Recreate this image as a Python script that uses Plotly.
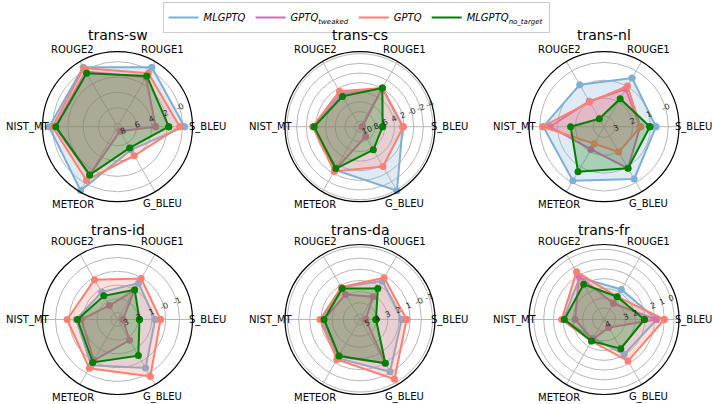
import math
import plotly.graph_objects as go

# ---------------- data ----------------
metrics = ["S_BLEU", "ROUGE1", "ROUGE2", "NIST_MT", "METEOR", "G_BLEU"]
series = ["MLGPTQ", "GPTQ_tweaked", "GPTQ", "MLGPTQ_no_target"]
legend_labels = ["<i>MLGPTQ</i>", "<i>GPTQ<sub>tweaked</sub></i>",
                 "<i>GPTQ</i>", "<i>MLGPTQ<sub>no_target</sub></i>"]
tasks = ["trans-sw", "trans-cs", "trans-nl", "trans-id", "trans-da", "trans-fr"]

# values per task, order of metrics
sw_mlgptq = [-0.26, -0.48, -0.48, -0.44, -1.14, 4.98]
sw_tweaked = [3.50, 1.05, 0.17, 0.30, 1.18, 7.80]
sw_gptq = [0.35, 0.43, -0.35, 0.00, 0.39, 4.10]
sw_notarget = [1.79, 0.83, 0.43, 0.43, 1.22, 5.28]

cs_mlgptq = [2.29, 1.87, 3.05, 1.46, 0.77, -4.20]
cs_tweaked = [10.66, 1.87, 3.50, 1.60, 0.77, 8.79]
cs_gptq = [2.15, 1.87, 2.63, 1.32, 0.42, 1.60]
cs_notarget = [6.44, 1.87, 3.88, 1.60, 1.11, 5.61]

nl_mlgptq = [0.69, 0.45, 0.88, 0.20, 0.11, 0.22]
nl_tweaked = [1.58, 1.17, 1.95, 0.58, 2.13, 0.91]
nl_gptq = [1.55, 0.97, 2.00, 0.17, 2.50, 1.96]
nl_notarget = [1.03, 1.79, 3.08, 1.73, 0.69, 0.91]

id_mlgptq = [0.76, 0.45, 1.20, 0.49, -0.33, -0.57]
id_tweaked = [3.10, 1.05, 2.31, 0.86, 0.08, 1.75]
id_gptq = [0.37, 0.06, 0.16, -0.16, -0.59, -1.27]
id_notarget = [1.90, 1.00, 1.51, 0.59, -0.10, 0.47]

da_mlgptq = [1.76, 1.50, 2.18, 2.06, 1.50, 0.10]
da_tweaked = [4.98, 3.14, 2.90, 2.27, 1.67, 0.96]
da_gptq = [1.32, 1.17, 2.15, 1.91, 1.35, -0.68]
da_notarget = [4.06, 2.30, 2.30, 2.27, 1.73, 0.96]

fr_mlgptq = [1.79, 3.63, 2.20, 3.02, 4.97, 3.05]
fr_tweaked = [1.86, 5.28, 2.06, 4.22, 4.80, 6.23]
fr_gptq = [1.00, 4.49, 1.55, 2.85, 4.63, 2.27]
fr_notarget = [3.05, 4.49, 3.02, 3.12, 4.63, 3.74]

# radial axis (reversed: centre value first)
sw_range = [8.47, -1.30]
sw_ticks = [8, 6, 4, 2, 0]
sw_ticktext = ["8", "6", "4", "2", "-0"]
cs_range = [11.14, -4.42]
cs_ticks = [10, 8, 6, 4, 2, 0, -2, -4]
cs_ticktext = ["10", "8", "6", "4", "2", "-0", "-2", "-4"]
nl_range = [3.6, -0.6]
nl_ticks = [3, 2, 1, 0]
nl_ticktext = ["3", "2", "1", "-0"]
id_range = [3.49, -1.94]
id_ticks = [3, 2, 1, 0, -1]
id_ticktext = ["3", "2", "1", "-0", "-1"]
da_range = [5.49, -1.22]
da_ticks = [5, 4, 3, 2, 1, 0, -1]
da_ticktext = ["5", "4", "3", "2", "1", "-0", "-1"]
fr_range = [7.19, -0.5]
fr_ticks = [7, 6, 5, 4, 3, 2, 1, 0]
fr_ticktext = ["4", "", "3", "2", "", "2", "1", "0"]

task_data = [
    (sw_mlgptq, sw_tweaked, sw_gptq, sw_notarget, sw_range, sw_ticks, sw_ticktext),
    (cs_mlgptq, cs_tweaked, cs_gptq, cs_notarget, cs_range, cs_ticks, cs_ticktext),
    (nl_mlgptq, nl_tweaked, nl_gptq, nl_notarget, nl_range, nl_ticks, nl_ticktext),
    (id_mlgptq, id_tweaked, id_gptq, id_notarget, id_range, id_ticks, id_ticktext),
    (da_mlgptq, da_tweaked, da_gptq, da_notarget, da_range, da_ticks, da_ticktext),
    (fr_mlgptq, fr_tweaked, fr_gptq, fr_notarget, fr_range, fr_ticks, fr_ticktext),
]

# ---------------- style / layout ----------------
W, H = 712, 404
colors = ["#7eb0d5", "#cf6fb6", "#fa8072", "#008000"]
fills = ["rgba(126,176,213,0.25)", "rgba(207,111,182,0.25)",
         "rgba(250,128,114,0.25)", "rgba(0,128,0,0.25)"]
col_x = [117.5, 360, 604]
row_y = [126.7, 319.5]
RAD = 75
title_y = [35.5, 230]
label_angles = [0, 60, 120, 180, 240, 300]
FONT = "DejaVu Sans"

fig = go.Figure()
layout_polars = {}
annotations = []
for ti, (task, td) in enumerate(zip(tasks, task_data)):
    pname = "polar" if ti == 0 else f"polar{ti + 1}"
    vals = td[:4]
    rng, tv, tt = td[4], td[5], td[6]
    for si in range(4):
        r = list(vals[si]) + [vals[si][0]]
        th = metrics + [metrics[0]]
        fig.add_trace(go.Scatterpolar(
            r=r, theta=th, subplot=pname, mode="lines+markers",
            line=dict(color=colors[si], width=2),
            marker=dict(color=colors[si], size=7),
            fill="toself", fillcolor=fills[si],
            showlegend=False, hoverinfo="skip"))
    cx, cy = col_x[ti % 3], row_y[ti // 3]
    layout_polars[pname] = dict(
        domain=dict(x=[(cx - RAD) / W, (cx + RAD) / W],
                    y=[(H - cy - RAD) / H, (H - cy + RAD) / H]),
        bgcolor="white",
        angularaxis=dict(rotation=0, direction="counterclockwise",
                         showline=True, linecolor="black", linewidth=1.2,
                         gridcolor="#b8b8b8", gridwidth=1, ticks="",
                         showticklabels=False),
        radialaxis=dict(range=rng, tickvals=tv, ticktext=tt, angle=22.5,
                        tickangle=0, showline=False, ticks="",
                        gridcolor="#b8b8b8", gridwidth=1,
                        tickfont=dict(family=FONT, size=8, color="#222")),
    )
    annotations.append(dict(text=task, x=cx / W, y=(H - title_y[ti // 3]) / H,
                            xref="paper", yref="paper", showarrow=False,
                            xanchor="center", yanchor="middle",
                            font=dict(family=FONT, size=14, color="black")))
    for name, ang in zip(metrics, label_angles):
        d = RAD + 14.5
        lx = cx + d * math.cos(math.radians(ang))
        ly = cy - d * math.sin(math.radians(ang))
        annotations.append(dict(text=name, x=lx / W, y=(H - ly) / H,
                                xref="paper", yref="paper", showarrow=False,
                                xanchor="center", yanchor="middle",
                                font=dict(family=FONT, size=10, color="black")))

# legend-only traces (line symbols)
for si in range(4):
    fig.add_trace(go.Scatterpolar(r=[None], theta=[metrics[0]], subplot="polar",
                                  mode="lines", name=legend_labels[si],
                                  line=dict(color=colors[si], width=2),
                                  showlegend=True))

fig.update_layout(
    width=W, height=H, margin=dict(l=0, r=0, t=0, b=0),
    paper_bgcolor="white", font=dict(family=FONT),
    annotations=annotations,
    legend=dict(orientation="h", x=0.5, xanchor="center", y=0.995, yanchor="top",
                bordercolor="#cccccc", borderwidth=1, bgcolor="white",
                font=dict(family=FONT, size=10, color="black"),
                itemwidth=30, tracegroupgap=0),
    **layout_polars,
)
fig.write_html("out.html", config={"displayModeBar": False},
               post_script="document.body.style.margin='0px';")
